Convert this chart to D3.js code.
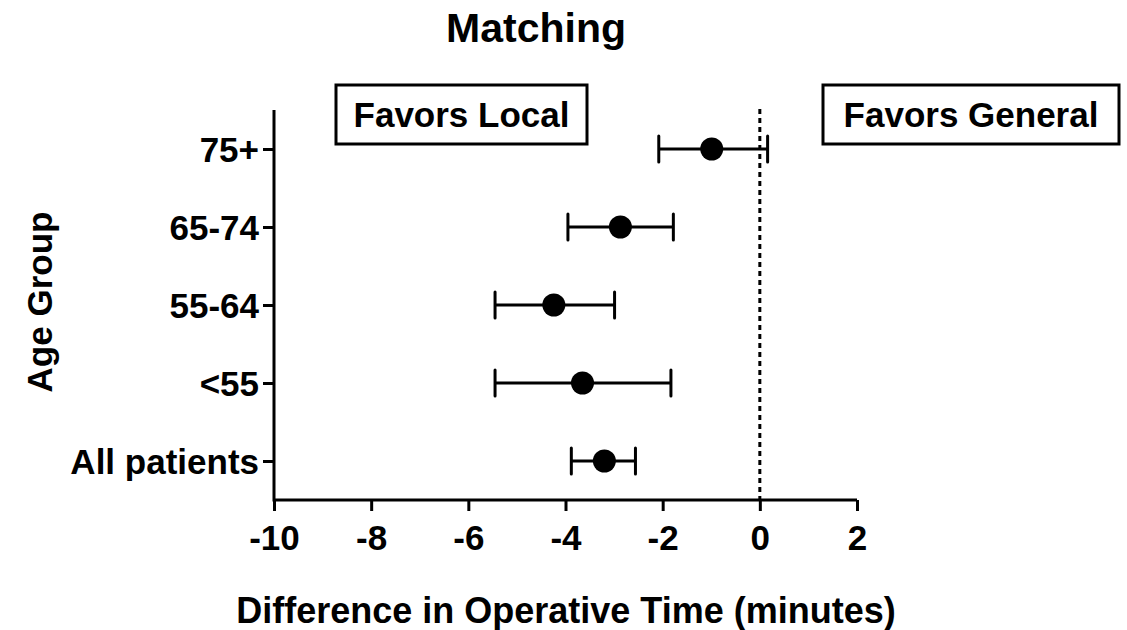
<!DOCTYPE html>
<html>
<head>
<meta charset="utf-8">
<script src="https://cdn.jsdelivr.net/npm/d3@7"></script>
<style>
  body { margin: 0; background: #fff; }
  text { font-family: "Liberation Sans", Arial, sans-serif; font-weight: bold; }
</style>
</head>
<body>
<svg width="1127" height="630"></svg>
<script>
// age groups, top to bottom
let groups = ['75+', '65-74', '55-64', '<55', 'All patients'];
let means = [-0.99, -2.87, -4.24, -3.65, -3.2];
let lower = [-2.08, -3.95, -5.45, -5.45, -3.88];
let upper = [0.16, -1.78, -2.99, -1.83, -2.56];
let xTicks = [-10, -8, -6, -4, -2, 0, 2];

let data = groups.map((g, i) => ({ group: g, mean: means[i], lo: lower[i], hi: upper[i] }));

let marginLeft = 274;
let plotRight = 857;
let plotTop = 110;
let plotBottom = 500;

let svg = d3.select('svg');

let xScale = d3.scaleLinear().domain([-10, 2]).range([marginLeft, plotRight]);
let yScale = d3.scalePoint().domain(groups).range([plotTop, plotBottom]).padding(0.5);

// plain hyphen for negatives, like the original
let xAxis = d3.axisBottom(xScale).tickValues(xTicks).tickSize(11).tickSizeOuter(0).tickPadding(6)
  .tickFormat((d) => String(d));
let yAxis = d3.axisLeft(yScale).tickSize(11).tickSizeOuter(0).tickPadding(4);

let gx = svg.append('g')
  .attr('transform', `translate(0,${plotBottom})`)
  .call(xAxis);
gx.select('.domain').attr('d', `M${marginLeft},0H${plotRight}`);

let gy = svg.append('g')
  .attr('transform', `translate(${marginLeft},0)`)
  .call(yAxis);
gy.select('.domain').attr('d', `M0,${plotTop}V${plotBottom + 1.5}`);

[gx, gy].forEach((g) => {
  g.selectAll('path, line').attr('stroke', '#000').attr('stroke-width', 3);
  g.selectAll('text').attr('fill', '#000').style('font-size', '35px').style('font-family', '"Liberation Sans", Arial, sans-serif').style('font-weight', 'bold');
});
gx.selectAll('text').attr('dy', '0.95em');
gy.selectAll('text').attr('dy', '0.36em');

// zero reference line
svg.append('line')
  .attr('x1', xScale(0)).attr('x2', xScale(0))
  .attr('y1', plotTop - 1).attr('y2', plotBottom)
  .attr('stroke', '#000')
  .attr('stroke-width', 3)
  .attr('stroke-dasharray', '5,4');

let rows = svg.selectAll('g.row')
  .data(data)
  .enter()
  .append('g')
  .attr('class', 'row')
  .attr('transform', (d) => `translate(0,${yScale(d.group)})`);

rows.append('line')
  .attr('x1', (d) => xScale(d.lo)).attr('x2', (d) => xScale(d.hi))
  .attr('stroke', '#000').attr('stroke-width', 3);

rows.selectAll('line.cap')
  .data((d) => [d.lo, d.hi])
  .enter()
  .append('line')
  .attr('class', 'cap')
  .attr('x1', (d) => xScale(d)).attr('x2', (d) => xScale(d))
  .attr('y1', -13).attr('y2', 13)
  .attr('stroke', '#000').attr('stroke-width', 3).attr('stroke-linecap', 'round');

rows.append('circle')
  .attr('cx', (d) => xScale(d.mean))
  .attr('r', 11.5)
  .attr('fill', '#000');

// favors boxes
let boxes = [
  { label: 'Favors Local', x: 336, w: 251 },
  { label: 'Favors General', x: 823, w: 296 },
];
let bg = svg.selectAll('g.box')
  .data(boxes)
  .enter()
  .append('g')
  .attr('class', 'box');
bg.append('rect')
  .attr('x', (d) => d.x).attr('y', 85)
  .attr('width', (d) => d.w).attr('height', 59)
  .attr('fill', '#fff').attr('stroke', '#000').attr('stroke-width', 3);
bg.append('text')
  .attr('x', (d) => d.x + d.w / 2)
  .attr('y', 127)
  .attr('text-anchor', 'middle')
  .style('font-size', '35px')
  .text((d) => d.label);

svg.append('text')
  .attr('x', 536).attr('y', 42)
  .attr('text-anchor', 'middle')
  .style('font-size', '41px')
  .text('Matching');

svg.append('text')
  .attr('x', 566).attr('y', 623)
  .attr('text-anchor', 'middle')
  .style('font-size', '36px')
  .text('Difference in Operative Time (minutes)');

svg.append('text')
  .attr('transform', 'translate(52,302) rotate(-90)')
  .attr('text-anchor', 'middle')
  .style('font-size', '35px')
  .text('Age Group');
</script>
</body>
</html>
